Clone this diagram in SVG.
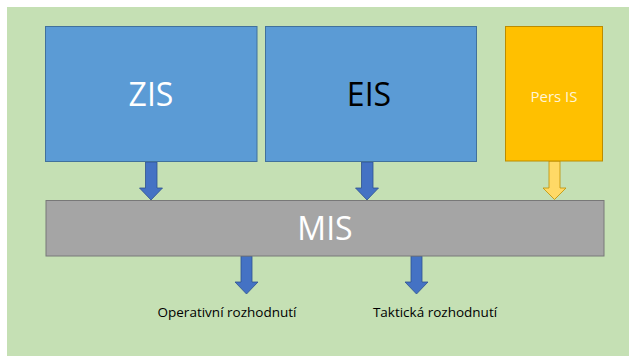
<svg xmlns="http://www.w3.org/2000/svg" width="629" height="356" viewBox="0 0 629 356">
<style>
.blue{fill:#5B9BD5;stroke:#41719C;stroke-width:1}
.orange{fill:#FFC000;stroke:#BC8C00;stroke-width:1}
.gray{fill:#A5A5A5;stroke:#787878;stroke-width:1}
.arr{fill:#4472C4;stroke:#2F528F;stroke-width:0.8}
.arr2{fill:#FFD966;stroke:#BF9000;stroke-width:0.8}
.big{font-family:"Open Sans","Liberation Sans",sans-serif;font-size:32px;text-anchor:middle}
.lbl{font-family:"Open Sans","Liberation Sans",sans-serif;font-size:13.5px;text-anchor:middle;fill:#000}
</style>
<rect x="7" y="7" width="622" height="349" fill="#C5E0B4"/>
<g id="connectors">
<path class="arr" d="M145.5,162 H157 V188 H162.5 L151,200 L139.5,188 H145.5 Z"/>
<path class="arr" d="M361.5,162 H373 V188 H378.5 L367,200 L355.5,188 H361.5 Z"/>
<path class="arr2" d="M549,161 H560 V188 H566 L554.5,199.5 L543,188 H549 Z"/>
<path class="arr" d="M241,256 H252 V282 H258 L246.5,294 L235,282 H241 Z"/>
<path class="arr" d="M411,256 H422 V282 H428 L416.5,294 L405,282 H411 Z"/>
</g>
<g id="ZIS">
<rect class="blue" x="45.5" y="26.5" width="211.5" height="135"/>
<text class="big" x="151" y="106" fill="#FFFFFF">ZIS</text>
</g>
<g id="EIS">
<rect class="blue" x="265.5" y="26.5" width="211" height="135"/>
<text class="big" x="369" y="106" fill="#000000">EIS</text>
</g>
<g id="PersIS">
<rect class="orange" x="505.5" y="26.5" width="97" height="134.5"/>
<text x="554" y="102" font-family="'Open Sans','Liberation Sans',sans-serif" font-size="15" text-anchor="middle" fill="#FFF5D6">Pers IS</text>
</g>
<g id="MIS">
<rect class="gray" x="46" y="200.5" width="558" height="55.5"/>
<text class="big" x="325" y="240" fill="#FFFFFF">MIS</text>
</g>
<g id="labels">
<text class="lbl" x="227" y="317">Operativní rozhodnutí</text>
<text class="lbl" x="435" y="317">Taktická rozhodnutí</text>
</g>
</svg>
